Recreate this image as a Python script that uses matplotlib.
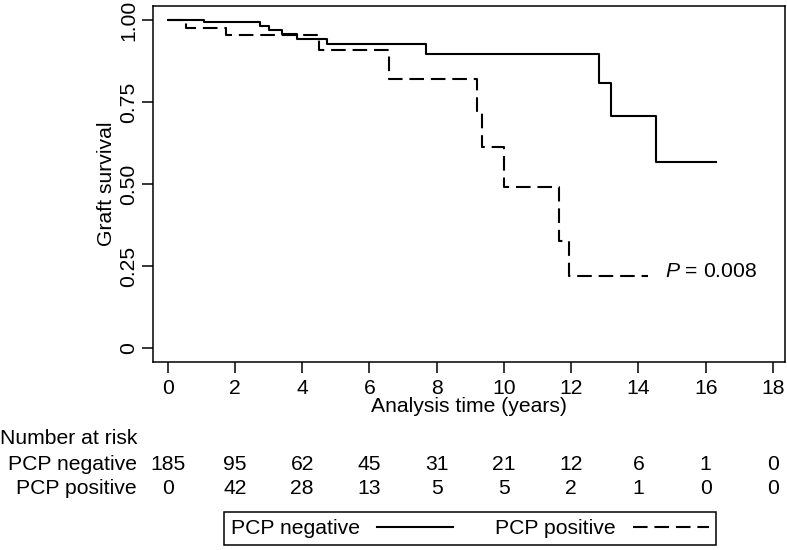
import matplotlib
matplotlib.use("Agg")
import matplotlib.pyplot as plt
from matplotlib.lines import Line2D

## data ##

neg_times = [0, 1.08, 2.73, 3.02, 3.39, 3.84, 4.75, 7.67, 12.84, 13.19, 14.52, 16.32]
neg_surv = [1.0, 0.993, 0.983, 0.970, 0.957, 0.942, 0.926, 0.898, 0.809, 0.706, 0.566, 0.566]

pos_times = [0, 0.53, 1.73, 4.50, 6.58, 9.19, 9.35, 10.0, 11.65, 11.94, 14.27]
pos_surv = [1.0, 0.975, 0.955, 0.909, 0.819, 0.716, 0.614, 0.491, 0.326, 0.218, 0.218]

risk_times = [0, 2, 4, 6, 8, 10, 12, 14, 16, 18]
risk_neg = [185, 95, 62, 45, 31, 21, 12, 6, 1, 0]
risk_pos = [0, 42, 28, 13, 5, 5, 2, 1, 0, 0]

yticks = [0, 0.25, 0.5, 0.75, 1.0]
ytick_labels = ["0", "0.25", "0.50", "0.75", "1.00"]

## styling ##

plt.rcParams['font.family'] = ['Liberation Sans', 'DejaVu Sans']
plt.rcParams['font.size'] = 15.2
plt.rcParams['mathtext.fontset'] = 'custom'
plt.rcParams['mathtext.it'] = 'Liberation Sans:italic'
plt.rcParams['mathtext.rm'] = 'Liberation Sans'

lw = 1.5
dash = (7.0, 3.3)

fig = plt.figure(figsize=(7.87, 5.5), dpi=100)
ax = fig.add_axes([0.1948, 0.3413, 0.8027, 0.6477])

ax.plot(neg_times, neg_surv, drawstyle='steps-post', color='black', lw=lw,
        label='PCP negative')
ax.plot(pos_times, pos_surv, drawstyle='steps-post', color='black', lw=lw,
        dashes=dash, label='PCP positive')

ax.set_xlim(-0.43, 18.36)
ax.set_ylim(-0.0436, 1.0427)
ax.set_xticks(risk_times)
ax.set_yticks(yticks)
ax.set_yticklabels(ytick_labels, rotation=90, va='center')
ax.tick_params(direction='out', length=8, width=1.1)
ax.tick_params(axis='x', pad=4)
ax.tick_params(axis='y', pad=3)
for s in ax.spines.values():
    s.set_linewidth(1.1)

ax.set_xlabel("Analysis time (years)", labelpad=-1)
ax.set_ylabel("Graft survival", labelpad=2)

ax.text(14.78, 0.233, "$P$ = 0.008", ha='left', va='center')

# number at risk table
trans = ax.get_xaxis_transform()
fig.text(0.0, 1 - 439 / 550, "Number at risk", ha='left', va='center')
fig.text(137 / 787, 1 - 464 / 550, "PCP negative", ha='right', va='center')
fig.text(137 / 787, 1 - 488 / 550, "PCP positive", ha='right', va='center')
for t, n1, n2 in zip(risk_times, risk_neg, risk_pos):
    ax.text(t, (362 - 464) / 356.3, str(n1), ha='center', va='center',
            transform=trans, clip_on=False)
    ax.text(t, (362 - 488) / 356.3, str(n2), ha='center', va='center',
            transform=trans, clip_on=False)

handles = [Line2D([], [], color='black', lw=lw),
           Line2D([], [], color='black', lw=lw, dashes=dash)]
leg = fig.legend(handles, ['PCP negative', 'PCP positive'], ncol=2,
                 markerfirst=False, loc='center',
                 bbox_to_anchor=(470 / 787, 1 - 528.5 / 550),
                 handlelength=3.6, handletextpad=0.8, columnspacing=2.0,
                 borderpad=0.35, fancybox=False, edgecolor='black',
                 framealpha=1)
leg.get_frame().set_linewidth(1.1)

fig.savefig("out.png", dpi=100)
